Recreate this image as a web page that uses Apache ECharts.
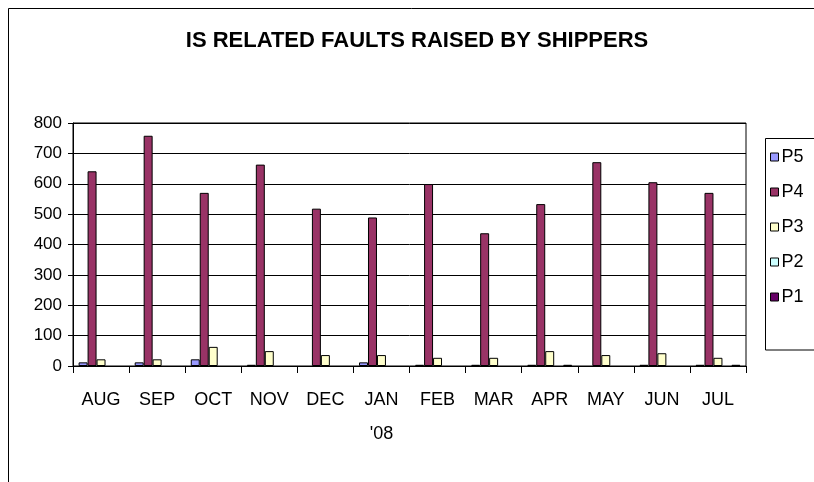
<!DOCTYPE html>
<html>
<head>
<meta charset="utf-8">
<script src="https://cdn.jsdelivr.net/npm/echarts@6/dist/echarts.min.js"></script>
<style>
html,body{margin:0;padding:0;background:#fff;}
#chart{width:814px;height:482px;}
</style>
</head>
<body>
<div id="chart"></div>
<script>
const titleText = 'IS RELATED FAULTS RAISED BY SHIPPERS';
const categories = ['AUG', 'SEP', 'OCT', 'NOV', 'DEC', "JAN\n'08", 'FEB', 'MAR', 'APR', 'MAY', 'JUN', 'JUL'];
const seriesNames = ['P5', 'P4', 'P3', 'P2', 'P1'];
const p5 = [12, 12, 22, 4, 0, 12, 4, 4, 4, 0, 4, 4];
const p4 = [641, 758, 570, 663, 518, 489, 599, 437, 533, 671, 605, 570];
const p3 = [22, 22, 63, 49, 36, 36, 27, 27, 49, 36, 42, 27];
const p2 = [0, 0, 0, 0, 0, 0, 0, 0, 0, 0, 0, 0];
const p1 = [0, 0, 0, 0, 0, 0, 0, 0, 4, 0, 0, 4];
const yTicks = { min: 0, max: 800, interval: 100 };
const colors = ['#9999FF', '#993366', '#FFFFCC', '#CCFFFF', '#660066'];

const seriesData = [p5, p4, p3, p2, p1];
const font = "'Liberation Sans', Arial, sans-serif";

const chart = echarts.init(document.getElementById('chart'), null, { renderer: 'canvas' });
chart.setOption({
  animation: false,
  backgroundColor: '#fff',
  title: {
    text: titleText,
    left: 417,
    top: 30,
    padding: 0,
    textAlign: 'center',
    textStyle: { fontFamily: font, fontSize: 22, fontWeight: 'bold', color: '#000' }
  },
  graphic: [
    { type: 'rect', shape: { x: 8.5, y: 8.5, width: 900, height: 600 }, style: { fill: 'none', stroke: '#000', lineWidth: 1 }, silent: true, z: -1 },
    { type: 'rect', shape: { x: 765.5, y: 138.5, width: 100, height: 211.5 }, style: { fill: 'none', stroke: '#000', lineWidth: 1 }, silent: true, z: -1 }
  ],
  legend: {
    orient: 'vertical',
    left: 770,
    top: 148,
    padding: 0,
    itemWidth: 8,
    itemHeight: 8,
    itemGap: 17,
    icon: 'rect',
    data: seriesNames,
    itemStyle: { borderColor: '#000', borderWidth: 1 },
    textStyle: { fontFamily: font, fontSize: 18, color: '#000', padding: [0, 0, 0, -2] }
  },
  grid: {
    left: 73, right: 68, top: 123, bottom: 116,
    show: true, borderColor: '#000', borderWidth: 1, backgroundColor: 'transparent'
  },
  xAxis: {
    type: 'category',
    data: categories,
    boundaryGap: true,
    axisLine: { lineStyle: { color: '#000', width: 1 } },
    axisTick: { show: true, length: 7, lineStyle: { color: '#000' } },
    axisLabel: { fontFamily: font, fontSize: 18, color: '#000', margin: 17, lineHeight: 34, interval: 0 }
  },
  yAxis: {
    type: 'value',
    min: yTicks.min, max: yTicks.max, interval: yTicks.interval,
    axisLine: { show: true, lineStyle: { color: '#000', width: 1 } },
    axisTick: { show: true, length: 5, lineStyle: { color: '#000' } },
    axisLabel: { fontFamily: font, fontSize: 17, color: '#000', margin: 11 },
    splitLine: { show: true, lineStyle: { color: '#000', width: 1 } }
  },
  series: seriesNames.map((name, i) => ({
    name: name,
    type: 'bar',
    data: seriesData[i].map(v => (v === 0 ? '-' : v)),
    barGap: '0%',
    barCategoryGap: '20%',
    itemStyle: { color: colors[i], borderColor: '#000', borderWidth: 1 }
  }))
});
</script>
</body>
</html>
